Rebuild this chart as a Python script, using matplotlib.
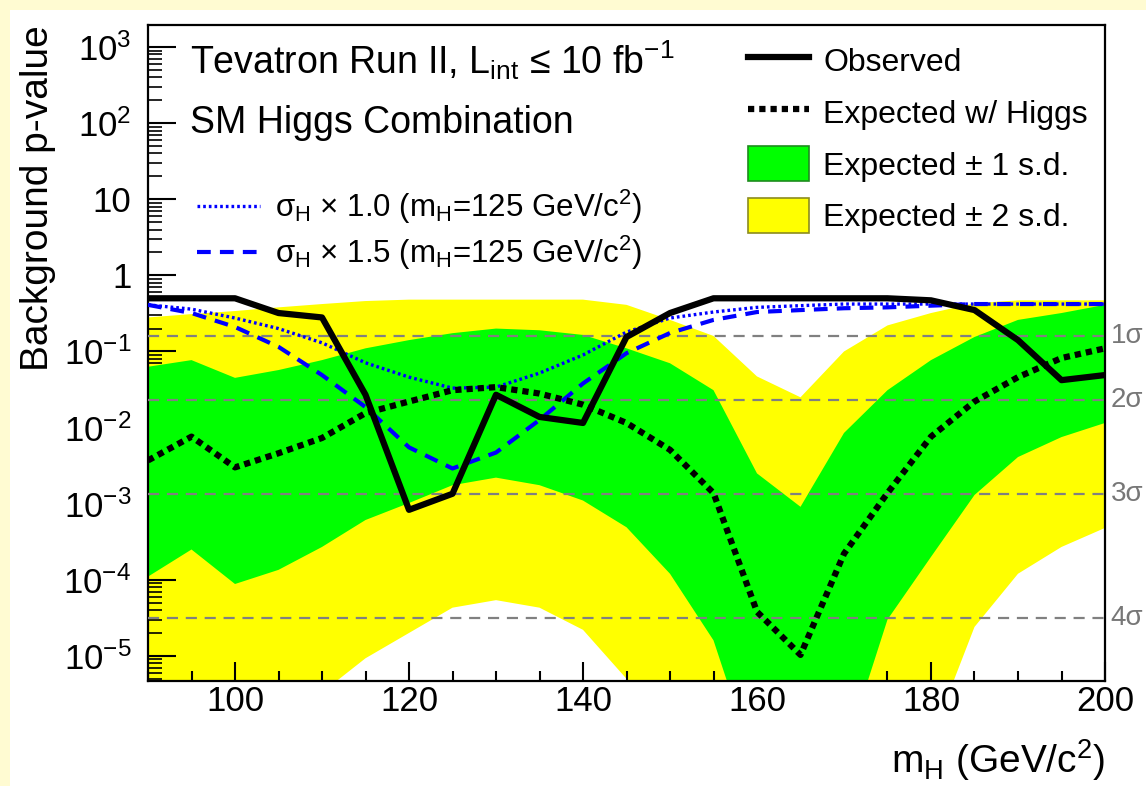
import matplotlib
matplotlib.use("Agg")
import matplotlib.pyplot as plt
from matplotlib.patches import Patch, Rectangle
from matplotlib.ticker import FixedLocator, FixedFormatter, LogLocator, MultipleLocator
import numpy as np

plt.rcParams['font.family'] = ['Liberation Sans', 'DejaVu Sans']
plt.rcParams['mathtext.fontset'] = 'custom'
plt.rcParams['mathtext.rm'] = 'Liberation Sans'
plt.rcParams['mathtext.it'] = 'Liberation Sans:italic'
plt.rcParams['mathtext.sf'] = 'Liberation Sans'

# --- data ---
mass = [90, 95, 100, 105, 110, 115, 120, 125, 130, 135, 140, 145,
        150, 155, 160, 165, 170, 175, 180, 185, 190, 195, 200]

observed = [0.5, 0.5, 0.5, 0.32, 0.28, 0.027, 8.3e-4, 1.35e-3, 0.027, 0.0138, 0.0115, 0.155,
            0.32, 0.5, 0.5, 0.5, 0.5, 0.5, 0.47, 0.35, 0.141, 0.042, 0.049]

exp_higgs = [3.7e-3, 7.6e-3, 3.0e-3, 4.6e-3, 7.3e-3, 0.0155, 0.022, 0.031, 0.034, 0.028, 0.020, 0.0115,
             5.1e-3, 1.38e-3, 3.8e-5, 1.03e-5, 2.2e-4, 1.38e-3, 7.6e-3, 0.022, 0.046, 0.082, 0.11]

band1_hi = [0.063, 0.077, 0.045, 0.057, 0.077, 0.11, 0.141, 0.174, 0.20, 0.19, 0.165, 0.11,
            0.07, 0.031, 2.5e-3, 9.1e-4, 8.5e-3, 0.031, 0.077, 0.155, 0.26, 0.32, 0.41]
band1_lo = [1.1e-4, 2.5e-4, 8.8e-5, 1.35e-4, 2.7e-4, 6.1e-4, 1.02e-3, 1.75e-3, 2.2e-3, 1.75e-3, 1.1e-3, 4.9e-4,
            1.2e-4, 1.6e-5, 3e-7, 1e-8, 5e-7, 3e-5, 2e-4, 1.3e-3, 4.1e-3, 7.5e-3, 0.0115]

band2_hi = [0.28, 0.31, 0.34, 0.38, 0.42, 0.46, 0.48, 0.48, 0.48, 0.48, 0.48, 0.41,
            0.26, 0.16, 0.047, 0.025, 0.10, 0.22, 0.32, 0.43, 0.47, 0.47, 0.47]
band2_lo = [1e-8, 1e-8, 1e-8, 1e-8, 3.3e-6, 9.3e-6, 2.0e-5, 4.3e-5, 5.4e-5, 4.3e-5, 2.2e-5, 5e-6,
            1e-8, 1e-8, 1e-8, 1e-8, 1e-8, 1e-8, 8e-7, 2.4e-5, 1.2e-4, 2.7e-4, 4.8e-4]

sig_x10 = [0.41, 0.36, 0.275, 0.20, 0.13, 0.071, 0.046, 0.033, 0.034, 0.052, 0.09, 0.18,
           0.275, 0.33, 0.38, 0.40, 0.42, 0.42, 0.42, 0.42, 0.42, 0.42, 0.42]
sig_x15 = [0.41, 0.32, 0.21, 0.115, 0.049, 0.0186, 5.5e-3, 2.9e-3, 4.7e-3, 0.0126, 0.038, 0.095,
           0.175, 0.26, 0.33, 0.35, 0.37, 0.38, 0.40, 0.42, 0.42, 0.42, 0.42]

sigma_pvals = [0.1587, 0.02275, 0.00135, 3.17e-5]
sigma_labels = ['1σ', '2σ', '3σ', '4σ']

ytick_vals = [1e3, 1e2, 10, 1, 1e-1, 1e-2, 1e-3, 1e-4, 1e-5]
ytick_labels = [r'$10^{3}$', r'$10^{2}$', '10', '1', r'$10^{-1}$', r'$10^{-2}$',
                r'$10^{-3}$', r'$10^{-4}$', r'$10^{-5}$']

# --- figure ---
W, H = 1146, 786
fig = plt.figure(figsize=(W / 100, H / 100), dpi=100, facecolor='#FFFBD2')
bg = Rectangle((10 / W, 0), 1, 1 - 10 / H, transform=fig.transFigure,
               facecolor='white', edgecolor='none', zorder=-10)
fig.add_artist(bg)

ax = fig.add_axes([148 / W, 1 - 681 / H, (1105 - 148) / W, (681 - 25) / H])
ax.set_yscale('log')

ax.fill_between(mass, band2_lo, band2_hi, facecolor='#FFFF00', edgecolor='none', zorder=1)
ax.fill_between(mass, band1_lo, band1_hi, facecolor='#00FF00', edgecolor='none', zorder=2)

for p in sigma_pvals:
    ax.axhline(p, color='#808080', lw=1.6, ls=(0, (5, 3.5)), zorder=3)

l10, = ax.plot(mass, sig_x10, color='#0000FF', lw=2.4, ls=(0, (0.8, 0.9)), zorder=4,
               label='σ$_{\\rm H}$ × 1.0 (m$_{\\rm H}$=125 GeV/c$^{2}$)')
l15, = ax.plot(mass, sig_x15, color='#0000FF', lw=3, ls=(0, (3.3, 2.2)), zorder=4,
               label='σ$_{\\rm H}$ × 1.5 (m$_{\\rm H}$=125 GeV/c$^{2}$)')
lexp, = ax.plot(mass, exp_higgs, color='black', lw=4.5, ls=(0, (1, 0.8)), zorder=5,
                label='Expected w/ Higgs')
lobs, = ax.plot(mass, observed, color='black', lw=4.5, zorder=6, label='Observed')

ax.set_xlim(90, 200)
ax.set_ylim(10 ** -5.33, 10 ** 3.29)

ax.xaxis.set_major_locator(MultipleLocator(20))
ax.xaxis.set_minor_locator(MultipleLocator(5))
ax.yaxis.set_major_locator(FixedLocator(ytick_vals))
ax.yaxis.set_major_formatter(FixedFormatter(ytick_labels))
ax.yaxis.set_minor_locator(LogLocator(base=10, subs=np.arange(2, 10)))
ax.yaxis.set_minor_formatter(FixedFormatter([]))

ax.tick_params(axis='x', which='major', direction='in', length=14, width=1.5,
               labelsize=25, pad=3, top=False)
ax.tick_params(axis='x', which='minor', direction='in', length=7, width=1.5, top=False)
ax.tick_params(axis='y', which='major', direction='in', length=20, width=1.5,
               labelsize=25, pad=12, right=False)
ax.tick_params(axis='y', which='minor', direction='in', length=10, width=1.2, right=False)
for s in ax.spines.values():
    s.set_linewidth(1.6)

# sigma labels on the right
for p, lab in zip(sigma_pvals, sigma_labels):
    ax.text(1.006, p, lab, transform=ax.get_yaxis_transform(), color='#777777',
            fontsize=20, ha='left', va='center')

ax.text(0.044, 0.947, 'Tevatron Run II, L$_{\\rm int}$ ≤ 10 fb$^{-1}$',
        transform=ax.transAxes, fontsize=27, ha='left', va='center')
ax.text(0.044, 0.851, 'SM Higgs Combination', transform=ax.transAxes,
        fontsize=27, ha='left', va='center')

leg1 = ax.legend(handles=[lobs, lexp,
                          Patch(facecolor='#00FF00', edgecolor='#1E8C1E', lw=1.2, label='Expected ± 1 s.d.'),
                          Patch(facecolor='#FFFF00', edgecolor='#8C8C1E', lw=1.2, label='Expected ± 2 s.d.')],
                 loc='upper left', bbox_to_anchor=((748 - 148) / 957, (681 - 43) / 656),
                 frameon=False, fontsize=23, borderpad=0, borderaxespad=0,
                 handlelength=1.9, handleheight=1.3, handletextpad=0.45, labelspacing=0.52)
ax.add_artist(leg1)
ax.legend(handles=[l10, l15], loc='upper left',
          bbox_to_anchor=((197 - 148) / 957, (681 - 188) / 656),
          frameon=False, fontsize=22.5, borderpad=0, borderaxespad=0,
          handlelength=2.0, handletextpad=0.5, labelspacing=0.25)

# axis titles
fig.text(38 / W, 1 - 25 / H, 'Background p-value', rotation=90, fontsize=28,
         ha='center', va='top')
fig.text(1105 / W, 0.004, 'm$_{\\rm H}$ (GeV/c$^{2}$)', fontsize=28, ha='right', va='bottom')

fig.savefig('out.png', dpi=100, facecolor=fig.get_facecolor())
